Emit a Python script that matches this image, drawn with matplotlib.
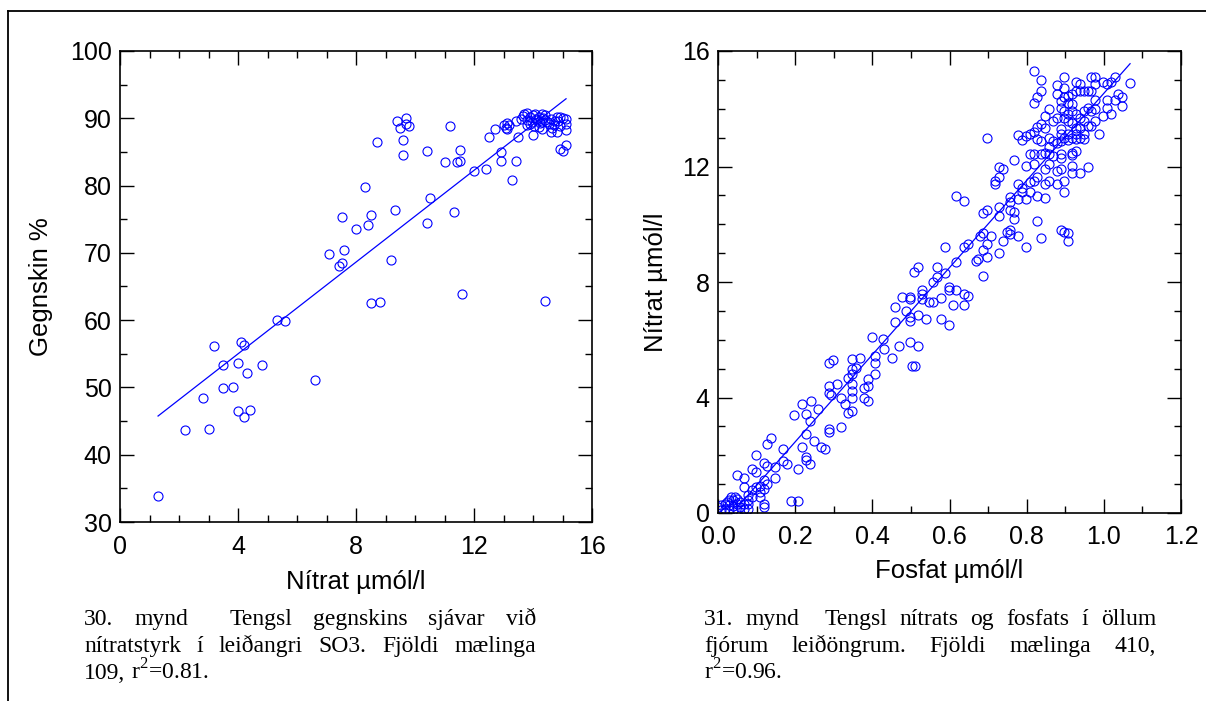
import numpy as np
import matplotlib.pyplot as plt
from matplotlib.lines import Line2D
from matplotlib.ticker import MultipleLocator

plt.rcParams['font.family'] = ['Liberation Sans', 'DejaVu Sans']
plt.rcParams['mathtext.fontset'] = 'custom'
plt.rcParams['mathtext.rm'] = 'Liberation Serif'

# left panel: Nitrat (x) vs Gegnskin % (y)
nit_x = [3.19, 4.09, 4.2, 3.5, 4.0, 4.82, 4.3, 6.6, 3.5, 3.82, 2.8, 4.0, 4.41, 4.2, 2.2, 3.01, 1.29,
         5.31, 5.61, 8.5, 8.82, 11.6, 14.42, 9.2, 7.1, 7.42, 7.52, 7.6, 8.0, 8.41, 8.51, 7.51, 8.3,
         9.31, 10.42, 10.51, 11.31, 8.7, 9.4, 9.5, 9.7, 9.7, 9.81, 9.61, 9.61, 10.42, 11.0, 11.2,
         11.41, 11.52, 11.51, 12.01, 12.41, 12.51, 12.7, 12.91, 12.91, 13.0, 13.08, 13.11, 13.11,
         13.3, 13.41, 13.41, 13.5, 13.61, 13.7, 13.8, 13.8, 13.9, 14.0, 14.0, 14.1, 14.2, 14.2, 14.3,
         14.3, 14.42, 14.42, 14.5, 14.6, 14.6, 14.7, 14.8, 14.8, 14.9, 14.9, 15.0, 15.12, 15.12,
         15.12, 15.12, 14.9, 14.31, 13.8, 14.07, 13.95, 14.15, 14.35, 14.55, 14.75, 13.65, 13.9,
         14.05, 14.25, 14.65, 14.85, 15.0, 13.2]
nit_y = [56.2, 56.7, 56.3, 53.4, 53.6, 53.3, 52.1, 51.1, 49.9, 50.0, 48.4, 46.5, 46.6, 45.6, 43.6, 43.8, 33.9,
         60.0, 59.9, 62.6, 62.7, 63.9, 62.8, 69.0, 69.85, 68.1, 68.5, 70.4, 73.5, 74.2, 75.6, 75.3, 79.75,
         76.3, 74.5, 78.2, 76.0, 86.5, 89.6, 88.6, 90.1, 89.2, 88.85, 86.8, 84.5, 85.2, 83.5, 88.85,
         83.5, 83.6, 85.3, 82.2, 82.4, 87.2, 88.4, 85.0, 83.6, 89.0, 88.6, 89.25, 88.45,
         80.9, 83.7, 89.65, 87.2, 89.95, 90.6, 90.8, 89.7, 90.2, 87.5, 90.45, 89.95, 90.2, 88.7, 90.6,
         89.45, 90.45, 89.7, 89.45, 88.0, 89.95, 88.95, 90.2, 88.0, 85.5, 90.2, 85.2, 89.95, 89.2,
         88.3, 86.1, 88.8, 88.45, 89.05, 90.7, 89.4, 89.8, 90.0, 89.1, 89.6, 90.3, 89.2,
         88.9, 89.3, 88.6, 89.6, 90.0, 89.0]
nit_fit_x = [1.29, 15.12]
nit_fit_y = [45.75, 92.9]

# right panel: Fosfat (x) vs Nitrat (y)
fos_x = [0.818, 0.838, 0.838, 0.828, 0.818, 0.898, 0.878, 0.878, 0.898, 0.928, 0.938, 0.968, 0.978, 0.978,
         0.968, 0.998, 1.008, 1.028, 1.018, 1.038, 1.048, 1.048, 1.068, 1.028, 1.008, 1.008, 1.018, 0.998,
         0.988, 0.978, 0.978, 0.958, 0.948, 0.938, 0.928, 0.918, 0.908, 0.898, 0.888, 0.908, 0.918, 0.888,
         0.898, 0.908, 0.918, 0.928, 0.938, 0.948, 0.958, 0.968, 0.948, 0.958, 0.968, 0.978, 0.938, 0.928,
         0.918, 0.908, 0.898, 0.888, 0.878, 0.868, 0.858, 0.848, 0.848, 0.838, 0.828, 0.818, 0.808, 0.798,
         0.778, 0.788, 0.698, 0.828, 0.838, 0.858, 0.868, 0.878, 0.888, 0.898, 0.908, 0.918, 0.928, 0.938,
         0.948, 0.948, 0.928, 0.908, 0.888, 0.858, 0.848, 0.838, 0.808, 0.818, 0.858, 0.868, 0.888, 0.888,
         0.918, 0.928, 0.918, 0.768, 0.798, 0.818, 0.848, 0.858, 0.878, 0.888, 0.918, 0.918, 0.938, 0.958,
         0.728, 0.738, 0.728, 0.718, 0.718, 0.778, 0.788, 0.808, 0.818, 0.828, 0.848, 0.858, 0.878, 0.898,
         0.898, 0.788, 0.808, 0.828, 0.848, 0.798, 0.778, 0.758, 0.758, 0.758, 0.768, 0.768, 0.728, 0.728,
         0.698, 0.688, 0.618, 0.638, 0.828, 0.888, 0.898, 0.908, 0.908, 0.838, 0.798, 0.778, 0.758, 0.748,
         0.758, 0.738, 0.728, 0.708, 0.698, 0.678, 0.688, 0.688, 0.698, 0.688, 0.668, 0.673, 0.648, 0.638,
         0.588, 0.618, 0.588, 0.568, 0.558, 0.568, 0.518, 0.508, 0.598, 0.598, 0.618, 0.638, 0.648, 0.578,
         0.608, 0.638, 0.548, 0.558, 0.528, 0.528, 0.498, 0.478, 0.498, 0.528, 0.458, 0.488, 0.498, 0.518,
         0.538, 0.578, 0.598, 0.458, 0.498, 0.398, 0.428, 0.468, 0.498, 0.518, 0.43,
         0.503, 0.51, 0.45, 0.408, 0.408, 0.408, 0.388, 0.388, 0.378, 0.388, 0.378, 0.368, 0.358, 0.348,
         0.348, 0.348, 0.338, 0.348, 0.348, 0.348, 0.348, 0.338, 0.328, 0.318, 0.308, 0.298, 0.288, 0.288,
         0.288, 0.293, 0.318, 0.288, 0.288, 0.278, 0.268, 0.258, 0.24, 0.218, 0.238, 0.228, 0.198, 0.228,
         0.248, 0.218, 0.228, 0.238, 0.228, 0.208, 0.168, 0.18, 0.168, 0.138, 0.128, 0.148, 0.148, 0.128,
         0.118, 0.098, 0.088, 0.098, 0.048, 0.068, 0.068, 0.108, 0.118, 0.128, 0.118, 0.108, 0.098, 0.088,
         0.078, 0.108, 0.118, 0.118, 0.188, 0.208, 0.078, 0.078, 0.078, 0.068, 0.058, 0.048, 0.048, 0.038,
         0.038, 0.028, 0.028, 0.018, 0.018, 0.008, 0.008, 0.0, 0.038, 0.048, 0.028, 0.058, 0.068, 0.033,
         0.043, 0.023, 0.088]
fos_y = [15.31, 15.0, 14.62, 14.39, 14.21, 15.11, 14.81, 14.52, 14.73, 14.94, 14.85, 15.11, 15.11, 14.87,
         14.62, 14.94, 14.85, 15.11, 14.94, 14.52, 14.39, 14.1, 14.9, 14.29, 14.29, 14.04, 13.81, 13.75,
         13.12, 13.98, 14.29, 14.62, 14.62, 14.62, 14.62, 14.5, 14.44, 14.39, 14.27, 14.21, 14.16, 14.04,
         13.93, 13.81, 13.93, 13.81, 13.69, 13.93, 14.04, 13.93, 13.58, 13.41, 13.41, 13.58, 13.35, 13.35,
         13.52, 13.58, 13.69, 13.29, 13.69, 13.58, 13.98, 13.75, 13.35, 13.46, 13.37, 13.18, 13.12, 13.06,
         13.1, 12.91, 13.0, 12.95, 12.89, 13.0, 12.89, 12.83, 12.89, 13.0, 13.12, 13.0, 13.12, 13.0,
         13.12, 12.95, 12.95, 12.91, 13.12, 12.66, 12.48, 12.43, 12.43, 12.43, 12.43, 12.37, 12.43, 12.31,
         12.48, 12.52, 12.4, 12.22, 12.02, 12.08, 11.91, 12.08, 11.85, 11.91, 12.02, 11.79, 11.79, 12.0,
         12.0, 11.91, 11.62, 11.5, 11.39, 11.39, 11.27, 11.47, 11.5, 11.62, 11.39, 11.5, 11.39, 11.5,
         11.1, 11.1, 11.1, 10.99, 10.9, 10.87, 10.87, 10.93, 10.76, 10.49, 10.41, 10.18, 10.61, 10.29,
         10.49, 10.39, 10.99, 10.81, 10.1, 9.8, 9.72, 9.69, 9.41, 9.51, 9.2, 9.6, 9.8, 9.72,
         9.66, 9.43, 8.99, 9.6, 9.31, 9.6, 9.69, 9.11, 8.88, 8.22, 8.74, 8.8, 9.31, 9.2,
         9.2, 8.7, 8.3, 8.51, 8.01, 8.18, 8.51, 8.33, 7.82, 7.72, 7.72, 7.58, 7.53, 7.44,
         7.22, 7.22, 7.3, 7.3, 7.72, 7.6, 7.49, 7.49, 7.41, 7.41, 7.12, 7.01, 6.78, 6.84,
         6.72, 6.72, 6.51, 6.61, 6.66, 6.11, 6.03, 5.8, 5.91, 5.8, 5.68,
         5.09, 5.09, 5.38, 5.44, 5.21, 4.8, 4.63, 4.4, 4.34, 3.89, 3.98, 5.38, 5.03, 5.32,
         4.98, 4.8, 4.69, 4.46, 4.23, 4.0, 3.54, 3.48, 3.77, 4.0, 4.48, 5.3, 5.21, 4.4,
         4.17, 4.09, 2.99, 2.91, 2.79, 2.22, 2.3, 3.6, 3.89, 3.79, 3.2, 3.43, 3.4, 2.74,
         2.51, 2.3, 1.93, 1.7, 1.82, 1.53, 2.22, 1.7, 1.79, 2.6, 2.39, 1.61, 1.22, 1.64,
         1.72, 2.02, 1.53, 1.41, 1.3, 1.22, 0.9, 0.95, 1.13, 1.01, 0.84, 0.72, 0.9, 0.78,
         0.61, 0.57, 0.32, 0.21, 0.4, 0.4, 0.46, 0.32, 0.15, 0.32, 0.38, 0.49, 0.3, 0.44,
         0.23, 0.46, 0.26, 0.32, 0.15, 0.26, 0.09, 0.21, 0.09, 0.09, 0.09, 0.21, 0.15, 0.55,
         0.57, 0.38, 0.55]
fos_fit_x = [0.05, 1.068]
fos_fit_y = [0.2, 15.56]

cap_left = [(['30.', 'mynd', 'Tengsl', 'gegnskins', 'sjávar', 'við'], [1, 2, 1, 1, 1], True),
            (['nítratstyrk', 'í', 'leiðangri', 'SO3.', 'Fjöldi', 'mælinga'], [1, 1, 1, 1, 1], True),
            (['109,', 'r$^{2}$=0.81.'], [1], False)]
cap_right = [(['31.', 'mynd', 'Tengsl', 'nítrats', 'og', 'fosfats', 'í', 'öllum'], [1, 2, 1, 1, 1, 1, 1], True),
             (['fjórum', 'leiðöngrum.', 'Fjöldi', 'mælinga', '410,'], [1, 1, 1, 1], True),
             (['r$^{2}$=0.96.'], [], False)]

W, H = 1206, 701
fig = plt.figure(figsize=(W / 100, H / 100), dpi=100, facecolor='white')

fig.add_artist(Line2D([8 / W, 1], [1 - 10.5 / H, 1 - 10.5 / H], color='black', lw=1.3))
fig.add_artist(Line2D([8 / W, 8 / W], [0, 1 - 10.5 / H], color='black', lw=1.3))


def style(ax, xmaj, xmin, ymaj, ymin):
    ax.xaxis.set_major_locator(MultipleLocator(xmaj))
    ax.xaxis.set_minor_locator(MultipleLocator(xmin))
    ax.yaxis.set_major_locator(MultipleLocator(ymaj))
    ax.yaxis.set_minor_locator(MultipleLocator(ymin))
    ax.tick_params(which='both', direction='in', top=True, right=True, width=1.0, labelsize=18)
    ax.tick_params(which='major', length=10)
    ax.tick_params(which='minor', length=5)
    ax.tick_params(axis='x', pad=9)
    ax.tick_params(axis='y', pad=6)
    for s in ax.spines.values():
        s.set_linewidth(1.2)


ax1 = fig.add_axes([120 / W, 1 - 522 / H, 472 / W, 471 / H])
ax1.plot(nit_x, nit_y, 'o', mfc='none', mec='#0000ff', ms=6.5, mew=0.8)
ax1.plot(nit_fit_x, nit_fit_y, color='#0000ff', lw=0.9)
ax1.set_xlim(0, 16)
ax1.set_ylim(30, 100)
style(ax1, 4, 1, 10, 5)
ax1.set_xlabel('Nítrat µmól/l', fontsize=18.5, va='center')
ax1.set_ylabel('Gegnskin %', fontsize=18.5, va='center')
ax1.xaxis.set_label_coords(0.5, (522 - 582) / 471)
ax1.yaxis.set_label_coords((41 - 120) / 472, 0.5)

ax2 = fig.add_axes([718 / W, 1 - 513 / H, 463 / W, 462 / H])
ax2.plot(fos_x, fos_y, 'o', mfc='none', mec='#0000ff', ms=6.5, mew=0.8)
ax2.plot(fos_fit_x, fos_fit_y, color='#0000ff', lw=0.9)
ax2.set_xlim(0, 1.2)
ax2.set_ylim(0, 16)
style(ax2, 0.2, 0.1, 4, 1)
ax2.xaxis.set_major_formatter(lambda v, p: f'{v:.1f}')
ax2.set_xlabel('Fosfat µmól/l', fontsize=18.5, va='center')
ax2.set_ylabel('Nítrat µmól/l', fontsize=18.5, va='center')
ax2.xaxis.set_label_coords(0.5, (513 - 571) / 462)
ax2.yaxis.set_label_coords((656 - 718) / 463, 0.5)

renderer = fig.canvas.get_renderer()


def caption(lines, x0, x1, y0, dy):
    for i, (words, weights, justify) in enumerate(lines):
        y = 1 - (y0 + i * dy) / H
        items = [fig.text(0, y, w, fontsize=17, family='Liberation Serif', va='baseline') for w in words]
        widths = [t.get_window_extent(renderer).width for t in items]
        gap = (x1 - x0 - sum(widths)) / sum(weights) if justify else 5.5
        x = x0
        for t, w, k in zip(items, widths, weights + [0]):
            t.set_x(x / W)
            x += w + gap * k


caption(cap_left, 84, 536, 625, 27)
caption(cap_right, 704, 1156, 625, 27)

fig.savefig('out.png', dpi=100)
